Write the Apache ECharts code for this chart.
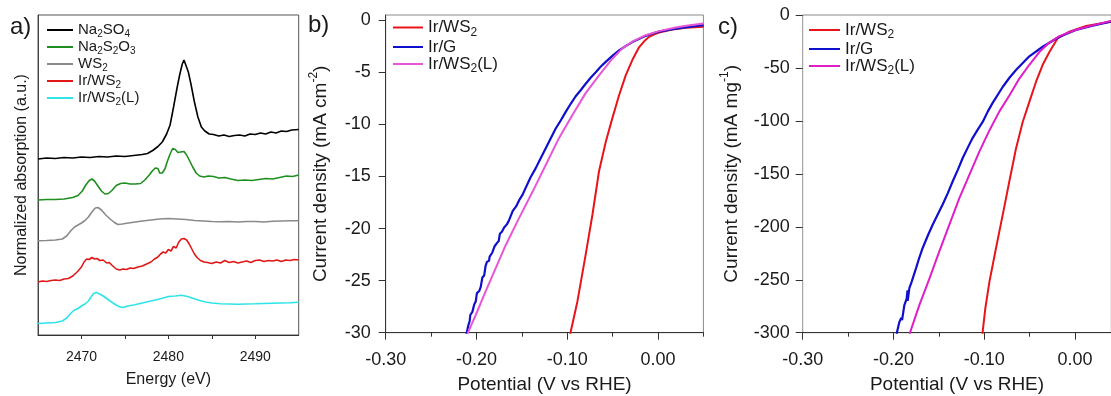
<!DOCTYPE html>
<html><head><meta charset="utf-8">
<script src="https://cdn.jsdelivr.net/npm/echarts@6/dist/echarts.min.js"></script>
<style>html,body{margin:0;padding:0;background:#fff}#c{width:1111px;height:396px}</style>
</head><body><div id="c"></div>
<script>
// ---------- Panel a: S K-edge XANES (offset spectra) ----------
const eNa2SO4 = [2465,2466,2467,2468,2469,2470,2471,2472,2473,2474,2475,2476,2477,2477.6,2478.2,2478.8,2479.3,2479.8,2480.2,2480.6,2481.0,2481.3,2481.6,2481.8,2482.0,2482.3,2482.6,2483.0,2483.4,2483.8,2484.2,2484.7,2485.2,2485.8,2486.4,2487,2487.6,2488.2,2488.8,2489.4,2490,2490.6,2491.2,2491.8,2492.4,2493,2493.6,2494.2,2495];
const yNa2SO4 = [17.6,17.7,17.65,17.75,17.7,17.8,17.75,17.85,17.8,17.9,17.85,17.95,18.05,18.15,18.45,18.85,19.3,20.1,21.0,22.8,24.7,26.0,27.1,27.5,27.3,26.3,25.1,23.3,21.8,20.8,20.4,20.1,20.05,19.9,20.0,19.85,19.95,20.0,19.9,20.1,20.05,20.2,20.1,20.3,20.2,20.4,20.35,20.5,20.55];

const eNa2S2O3 = [2465,2466,2467,2468,2469,2469.6,2470.1,2470.5,2470.9,2471.2,2471.5,2471.9,2472.3,2472.7,2473.1,2473.5,2474.0,2474.5,2475,2475.6,2476.2,2476.8,2477.3,2477.8,2478.2,2478.5,2478.8,2479.0,2479.3,2479.6,2479.9,2480.2,2480.5,2480.8,2481.1,2481.4,2481.8,2482.1,2482.4,2482.8,2483.2,2483.6,2484.1,2484.6,2485.2,2485.8,2486.5,2487.2,2488,2488.8,2489.6,2490.4,2491.2,2492,2492.8,2493.6,2494.3,2495];
const yNa2S2O3 = [13.5,13.55,13.55,13.6,13.75,13.95,14.4,15.0,15.45,15.6,15.4,14.9,14.4,14.1,14.15,14.45,14.95,15.15,15.2,15.1,15.1,15.15,15.5,16.0,16.45,16.7,16.65,16.2,16.2,16.6,17.4,18.1,18.65,18.55,18.25,18.3,18.35,18.0,17.5,16.8,16.2,15.9,15.8,15.9,15.85,15.7,15.75,15.6,15.45,15.5,15.45,15.55,15.65,15.6,15.75,15.9,15.85,16.0];

const eWS2 = [2465,2466,2467,2467.8,2468.3,2468.8,2469.2,2469.6,2470.0,2470.4,2470.8,2471.2,2471.6,2471.9,2472.3,2472.8,2473.3,2473.8,2474.2,2474.7,2475.4,2476.2,2477,2478,2479,2480,2481,2482,2483,2484,2485,2486,2487,2488,2489,2490,2491,2492,2493,2494,2495];
const yWS2 = [9.43,9.45,9.5,9.6,9.9,10.45,10.8,11.0,11.2,11.45,11.8,12.3,12.7,12.75,12.5,12.0,11.6,11.25,11.05,11.1,11.2,11.3,11.4,11.5,11.6,11.65,11.6,11.55,11.45,11.4,11.35,11.33,11.35,11.3,11.35,11.35,11.3,11.38,11.4,11.42,11.43];

const eIrWS2a = [2465,2465.5,2466,2466.5,2467,2467.5,2468,2468.5,2469,2469.5,2470,2470.3,2470.6,2470.9,2471.2,2471.5,2471.8,2472.1,2472.5,2472.9,2473.2,2473.6,2474.0,2474.4,2474.8,2475.2,2475.6,2476,2476.5,2477,2477.5,2478,2478.4,2478.8,2479.1,2479.4,2479.7,2480,2480.3,2480.6,2480.9,2481.2,2481.5,2481.8,2482.1,2482.4,2482.7,2483.0,2483.3,2483.7,2484.1,2484.5,2485,2485.5,2486,2486.5,2487,2487.5,2488,2488.5,2489,2489.5,2490,2490.5,2491,2491.5,2492,2492.5,2493,2493.5,2494,2494.5,2495];
const yIrWS2a = [5.3,5.4,5.35,5.45,5.5,5.45,5.6,5.65,5.9,6.3,6.8,7.3,7.6,7.55,7.75,7.6,7.65,7.45,7.5,7.2,7.25,6.9,6.6,6.5,6.6,6.55,6.7,6.65,6.8,6.9,7.1,7.3,7.6,7.8,8.1,8.3,8.2,8.55,8.4,8.85,8.7,9.3,9.6,9.65,9.5,9.1,8.6,8.1,7.75,7.45,7.3,7.25,7.15,7.3,7.2,7.45,7.25,7.35,7.2,7.3,7.4,7.25,7.45,7.5,7.35,7.45,7.4,7.5,7.35,7.5,7.45,7.55,7.5];

const eIrWS2La = [2465,2466,2467,2467.8,2468.3,2468.8,2469.2,2469.6,2470,2470.4,2470.8,2471.1,2471.4,2471.7,2472.1,2472.5,2472.9,2473.3,2473.8,2474.3,2474.8,2475.3,2476,2477,2478,2479,2480,2480.8,2481.5,2482.2,2482.9,2483.6,2484.3,2485,2486,2487,2488,2489,2490,2491,2492,2493,2494,2495];
const yIrWS2La = [1.15,1.2,1.25,1.4,1.7,2.2,2.5,2.65,2.9,3.1,3.4,3.8,4.15,4.25,4.1,3.9,3.65,3.4,3.1,2.85,2.75,2.9,3.0,3.2,3.4,3.6,3.85,3.9,3.97,3.85,3.65,3.45,3.3,3.2,3.12,3.1,3.08,3.1,3.12,3.15,3.18,3.2,3.22,3.27];

// ---------- Panel b: current density (mA cm^-2) vs potential ----------
const vIrWS2b = [-0.0968,-0.0962,-0.0888,-0.0797,-0.0723,-0.065,-0.0576,-0.0503,-0.0429,-0.0356,-0.0282,-0.0209,-0.015,-0.0099,-0.004,0.0011,0.0158,0.0305,0.0503];
const jIrWS2b = [-30.3,-29.9,-27.0,-22.5,-18.7,-14.5,-11.7,-9.4,-7.2,-5.3,-3.8,-2.6,-2.0,-1.6,-1.35,-1.18,-0.89,-0.73,-0.64];
const vIrGb = [-0.2112,-0.209,-0.2075,-0.2068,-0.2045,-0.2025,-0.2008,-0.1995,-0.197,-0.1953,-0.1935,-0.1915,-0.19,-0.1885,-0.1862,-0.1855,-0.1825,-0.18,-0.1775,-0.1755,-0.1742,-0.172,-0.1695,-0.1665,-0.1641,-0.16,-0.1565,-0.1531,-0.1495,-0.1458,-0.1405,-0.1347,-0.129,-0.1237,-0.118,-0.1127,-0.107,-0.1017,-0.096,-0.0907,-0.085,-0.0797,-0.074,-0.0686,-0.063,-0.0576,-0.05,-0.0429,-0.035,-0.0282,-0.02,-0.0136,-0.006,0.0011,0.01,0.0195,0.03,0.04,0.0503];
const jIrGb = [-30.2,-29.3,-28.9,-28.3,-28.0,-27.3,-27.0,-26.2,-26.0,-25.6,-24.7,-24.5,-23.6,-23.2,-23.1,-22.7,-22.3,-21.7,-21.4,-21.2,-20.5,-20.3,-19.9,-19.6,-19.2,-18.3,-17.9,-17.3,-16.8,-16.1,-15.1,-14.2,-13.2,-12.3,-11.3,-10.4,-9.6,-8.8,-8.0,-7.3,-6.7,-6.1,-5.5,-5.0,-4.45,-4.0,-3.4,-2.9,-2.45,-2.1,-1.75,-1.5,-1.28,-1.1,-0.95,-0.82,-0.7,-0.58,-0.48];
const vIrWS2Lb = [-0.2105,-0.2089,-0.2008,-0.1898,-0.1788,-0.1678,-0.1531,-0.1384,-0.1237,-0.109,-0.0943,-0.0797,-0.065,-0.0503,-0.0393,-0.0282,-0.0136,0.0011,0.0195,0.035,0.0503];
const jIrWS2Lb = [-30.3,-29.9,-28.3,-26.0,-23.8,-21.6,-19.0,-16.5,-13.9,-11.3,-9.1,-7.0,-5.3,-3.7,-2.7,-2.05,-1.44,-1.05,-0.7,-0.48,-0.32];

// ---------- Panel c: mass activity (mA mg^-1) vs potential ----------
const vIrWS2c = [-0.102,-0.1017,-0.0988,-0.0943,-0.087,-0.0797,-0.0723,-0.065,-0.0576,-0.0503,-0.0429,-0.0356,-0.0282,-0.0191,-0.0062,0.0122,0.0393,0.041];
const jIrWS2c = [-302,-299,-277,-252,-220,-189,-157,-126,-101,-82,-63,-47,-35,-22,-15.7,-10.4,-6.3,-6.1];
const vIrGc = [-0.1965,-0.196,-0.1935,-0.1915,-0.1905,-0.188,-0.1855,-0.1845,-0.1843,-0.1825,-0.18,-0.1751,-0.1715,-0.1678,-0.162,-0.1568,-0.151,-0.1458,-0.14,-0.1347,-0.129,-0.1237,-0.118,-0.1127,-0.107,-0.1017,-0.096,-0.0907,-0.0797,-0.072,-0.065,-0.0503,-0.0356,-0.0172,0.0011,0.0195,0.0393,0.041];
const jIrGc = [-302,-299,-290,-286,-288,-274,-268,-260,-270,-258,-252,-239,-229,-220,-208,-198,-188,-179,-168,-157,-146,-135,-125,-116,-108,-101,-91,-83,-68,-59,-52,-39,-30,-20.5,-14.2,-10.1,-6.3,-6.1];
const vIrWS2Lc = [-0.1824,-0.1814,-0.1715,-0.1604,-0.1494,-0.1384,-0.1274,-0.1164,-0.1054,-0.0943,-0.0833,-0.0723,-0.0613,-0.0503,-0.0393,-0.0282,-0.0172,0.0011,0.0195,0.0393,0.041];
const jIrWS2Lc = [-302,-299,-274,-249,-223,-198,-173,-151,-129,-109,-91,-76,-60,-47,-35,-26,-20,-13.9,-9.8,-5.7,-5.5];

// ---------- tick labels ----------
const ticksEnergyMajor = [2470,2480,2490];
const ticksEnergyAll = [2470,2475,2480,2485,2490];
const ticksPotMajor = [-0.3,-0.2,-0.1,0];
const ticksPotMinorB = [-0.25,-0.15,-0.05,0.05];
const ticksPotMinorC = [-0.25,-0.15,-0.05];
const ticksJb = [-30,-25,-20,-15,-10,-5,0];
const ticksJc = [-300,-250,-200,-150,-100,-50,0];

const FONT = 'Liberation Sans, Arial, sans-serif';
const TXT = '#1a1a1a';
const zip = (a, b) => a.map((v, i) => [v, b[i]]);
const toRich = name => name.replace(/^[abc]:/, '').split(/(\d)/).filter(s => s.length)
  .map(s => /^\d$/.test(s) ? '{s|' + s + '}' : '{n|' + s + '}').join('');

function lineSeries(name, xi, yi, data, color, width) {
  return { type: 'line', name, xAxisIndex: xi, yAxisIndex: yi, data, symbol: 'none', showSymbol: false,
    lineStyle: { color, width }, itemStyle: { color }, animation: false, z: 3 };
}
function richStyle(fs, lh, sfs) {
  return {
    n: { fontSize: fs, lineHeight: lh, fontFamily: FONT, color: TXT },
    s: { fontSize: sfs, lineHeight: sfs, verticalAlign: 'bottom', fontFamily: FONT, color: TXT }
  };
}
function legend(names, left, top, fs, lh, sfs, iw) {
  return { data: names, orient: 'vertical', left, top, padding: 0, itemGap: 0, itemWidth: iw, itemHeight: 2,
    icon: 'rect', formatter: toRich, textStyle: { rich: richStyle(fs, lh, sfs) }, selectedMode: false };
}
const potFmt = v => v.toFixed(2);
const plainFmt = v => String(v);

const option = {
  backgroundColor: '#fff',
  animation: false,
  grid: [
    { left: 38, top: 15, width: 260.7, height: 320, show: true, borderColor: '#555', borderWidth: 1, outerBoundsMode: 'none' },
    { left: 385.7, top: 15, width: 317.7, height: 317.7, show: true, borderColor: '#8a8a8a', borderWidth: 1, outerBoundsMode: 'none' },
    { left: 802.7, top: 15, width: 308.6, height: 317.7, show: true, borderColor: '#8a8a8a', borderWidth: 1, outerBoundsMode: 'none' }
  ],
  xAxis: [
    { gridIndex: 0, type: 'value', min: 2465, max: 2495, position: 'bottom',
      axisLine: { onZero: false, lineStyle: { color: '#333', width: 1 } },
      axisTick: { customValues: ticksEnergyAll, length: 4, lineStyle: { color: '#333' } },
      axisLabel: { customValues: ticksEnergyMajor, formatter: plainFmt, margin: 15, fontSize: 14, color: TXT, fontFamily: FONT },
      splitLine: { show: false },
      name: 'Energy (eV)', nameLocation: 'middle', nameGap: 37,
      nameTextStyle: { fontSize: 16, color: TXT, fontFamily: FONT } },
    { gridIndex: 1, type: 'value', min: -0.3, max: 0.05, position: 'bottom',
      axisLine: { onZero: false, lineStyle: { color: '#333', width: 1 } },
      axisTick: { customValues: ticksPotMajor, length: 7, lineStyle: { color: '#333' } },
      axisLabel: { customValues: ticksPotMajor, formatter: potFmt, margin: 18, fontSize: 18, color: TXT, fontFamily: FONT },
      splitLine: { show: false },
      name: 'Potential (V vs RHE)', nameLocation: 'middle', nameGap: 43,
      nameTextStyle: { fontSize: 19, color: TXT, fontFamily: FONT } },
    { gridIndex: 1, type: 'value', min: -0.3, max: 0.05, position: 'bottom',
      axisLine: { show: false, onZero: false },
      axisTick: { customValues: ticksPotMinorB, length: 4, lineStyle: { color: '#333' } },
      axisLabel: { show: false }, splitLine: { show: false } },
    { gridIndex: 2, type: 'value', min: -0.3, max: 0.04, position: 'bottom',
      axisLine: { onZero: false, lineStyle: { color: '#333', width: 1 } },
      axisTick: { customValues: ticksPotMajor, length: 7, lineStyle: { color: '#333' } },
      axisLabel: { customValues: ticksPotMajor, formatter: potFmt, margin: 18, fontSize: 18, color: TXT, fontFamily: FONT },
      splitLine: { show: false },
      name: 'Potential (V vs RHE)', nameLocation: 'middle', nameGap: 43,
      nameTextStyle: { fontSize: 19, color: TXT, fontFamily: FONT } },
    { gridIndex: 2, type: 'value', min: -0.3, max: 0.04, position: 'bottom',
      axisLine: { show: false, onZero: false },
      axisTick: { customValues: ticksPotMinorC, length: 4, lineStyle: { color: '#333' } },
      axisLabel: { show: false }, splitLine: { show: false } }
  ],
  yAxis: [
    { gridIndex: 0, type: 'value', min: 0, max: 32, position: 'left',
      axisLine: { onZero: false, lineStyle: { color: '#444' } },
      axisTick: { show: false }, axisLabel: { show: false }, splitLine: { show: false },
      name: 'Normalized absorption (a.u.)', nameLocation: 'middle', nameGap: 8,
      nameTextStyle: { fontSize: 16, color: TXT, fontFamily: FONT } },
    { gridIndex: 1, type: 'value', min: -30, max: 0.5, position: 'left',
      axisLine: { onZero: false, lineStyle: { color: '#333' } },
      axisTick: { customValues: ticksJb, length: 7, lineStyle: { color: '#333' } },
      axisLabel: { customValues: ticksJb, margin: 15, fontSize: 18, color: TXT, fontFamily: FONT },
      splitLine: { show: false },
      name: '{n|Current density (mA cm}{sup|-2}{n|)}', nameLocation: 'middle', nameGap: 52,
      nameTextStyle: { rich: {
        n: { fontSize: 19, lineHeight: 26, color: TXT, fontFamily: FONT },
        sup: { fontSize: 12, lineHeight: 12, verticalAlign: 'top', color: TXT, fontFamily: FONT } } } },
    { gridIndex: 2, type: 'value', min: -300, max: 0, position: 'left',
      axisLine: { onZero: false, lineStyle: { color: '#a8a8a8' } },
      axisTick: { customValues: ticksJc, length: 7, lineStyle: { color: '#333' } },
      axisLabel: { customValues: ticksJc, margin: 13, fontSize: 18, color: TXT, fontFamily: FONT },
      splitLine: { show: false },
      name: '{n|Current density (mA mg}{sup|-1}{n|)}', nameLocation: 'middle', nameGap: 58,
      nameTextStyle: { rich: {
        n: { fontSize: 19, lineHeight: 26, color: TXT, fontFamily: FONT },
        sup: { fontSize: 12, lineHeight: 12, verticalAlign: 'top', color: TXT, fontFamily: FONT } } } }
  ],
  legend: [
    legend(['a:Na2SO4','a:Na2S2O3','a:WS2','a:Ir/WS2','a:Ir/WS2(L)'], 47, 22.5, 15, 19, 10, 26),
    legend(['b:Ir/WS2','b:Ir/G','b:Ir/WS2(L)'], 393, 19, 17, 22, 12, 30),
    legend(['c:Ir/WS2','c:Ir/G','c:Ir/WS2(L)'], 809, 21.5, 17, 21, 12, 31)
  ],
  series: [
    lineSeries('a:Na2SO4', 0, 0, zip(eNa2SO4, yNa2SO4), '#000000', 1.6),
    lineSeries('a:Na2S2O3', 0, 0, zip(eNa2S2O3, yNa2S2O3), '#1f8f1f', 1.6),
    lineSeries('a:WS2', 0, 0, zip(eWS2, yWS2), '#8a8a8a', 1.6),
    lineSeries('a:Ir/WS2', 0, 0, zip(eIrWS2a, yIrWS2a), '#e01818', 1.6),
    lineSeries('a:Ir/WS2(L)', 0, 0, zip(eIrWS2La, yIrWS2La), '#2fe4e8', 1.6),
    lineSeries('b:Ir/WS2', 1, 1, zip(vIrWS2b, jIrWS2b), '#e8141a', 2),
    lineSeries('b:Ir/G', 1, 1, zip(vIrGb, jIrGb), '#1010cc', 2.2),
    lineSeries('b:Ir/WS2(L)', 1, 1, zip(vIrWS2Lb, jIrWS2Lb), '#e855d6', 2),
    lineSeries('c:Ir/WS2', 3, 2, zip(vIrWS2c, jIrWS2c), '#e8141a', 2),
    lineSeries('c:Ir/G', 3, 2, zip(vIrGc, jIrGc), '#1010cc', 2.2),
    lineSeries('c:Ir/WS2(L)', 3, 2, zip(vIrWS2Lc, jIrWS2Lc), '#e01ec8', 2)
  ],
  graphic: [
    { type: 'text', left: 10, top: 15, style: { text: 'a)', fontSize: 24, fontFamily: FONT, fill: TXT } },
    { type: 'text', left: 308, top: 13, style: { text: 'b)', fontSize: 24, fontFamily: FONT, fill: TXT } },
    { type: 'text', left: 718, top: 15, style: { text: 'c)', fontSize: 24, fontFamily: FONT, fill: TXT } }
  ]
};
const chart = echarts.init(document.getElementById('c'), null, { renderer: 'canvas' });
chart.setOption(option);
</script></body></html>
